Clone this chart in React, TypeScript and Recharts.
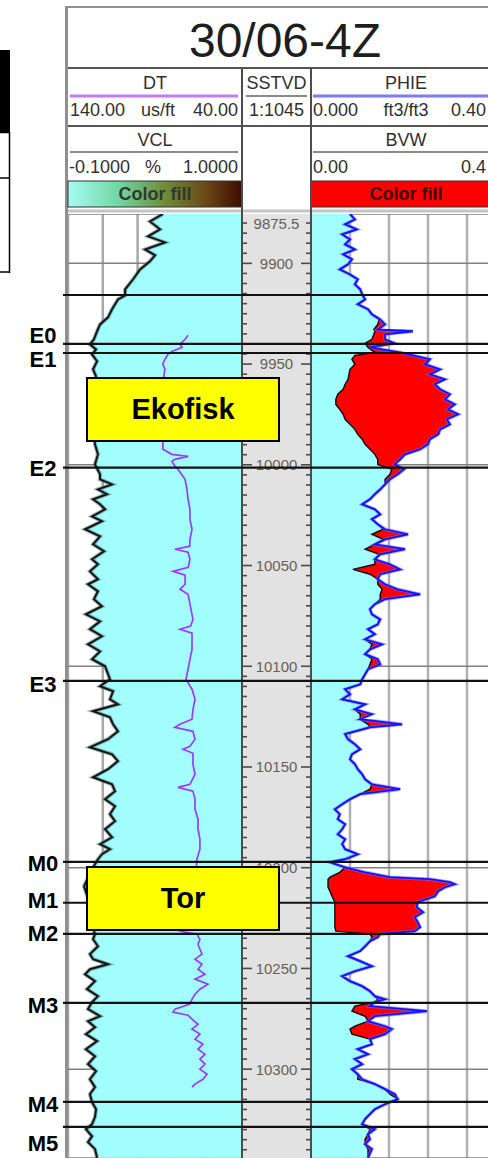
import React from 'react';
import { ComposedChart, Area, Line, XAxis, YAxis, CartesianGrid, ReferenceLine } from 'recharts';

// ---------------- data ----------------
const wellName = '30/06-4Z';
const topDepth = 9875.5;
const bottomDepth = 10344.1;
const topDepthLabel = '9875.5';

const dtDepth = [9875.5, 9879.2, 9883.1, 9886.6, 9889.6, 9893.1, 9896.0, 9899.0, 9903.0, 9907.9, 9912.9, 9915.9, 9917.9, 9922.8, 9926.8, 9930.3, 9933.7, 9937.7, 9940.2, 9942.7, 9945.2, 9948.6, 9952.6, 9956.1, 9962.5, 9972.5, 9982.4, 9989.8, 9994.8, 9999.8, 10004.7, 10007.2, 10009.7, 10012.2, 10014.6, 10017.1, 10019.6, 10022.1, 10025.6, 10028.0, 10032.0, 10035.5, 10039.5, 10042.9, 10046.9, 10049.4, 10052.9, 10056.8, 10059.3, 10062.8, 10066.7, 10070.2, 10074.2, 10077.7, 10081.6, 10085.1, 10089.1, 10092.6, 10096.5, 10100.0, 10102.5, 10106.5, 10109.9, 10112.4, 10116.4, 10118.9, 10122.3, 10125.3, 10128.8, 10132.3, 10136.2, 10140.2, 10143.7, 10147.1, 10151.1, 10155.1, 10158.6, 10162.0, 10166.0, 10169.5, 10173.4, 10176.9, 10180.9, 10184.9, 10188.3, 10190.8, 10193.3, 10195.8, 10200.7, 10209.2, 10218.1, 10228.0, 10233.0, 10235.5, 10239.0, 10242.9, 10245.4, 10247.9, 10250.4, 10252.9, 10256.3, 10260.3, 10263.8, 10266.7, 10270.2, 10273.7, 10276.2, 10279.2, 10282.6, 10286.1, 10290.1, 10293.6, 10297.5, 10301.0, 10305.0, 10308.9, 10312.4, 10316.4, 10319.9, 10323.8, 10327.3, 10329.8, 10333.3, 10336.2, 10339.7, 10344.0];
const dtValues = [85.4, 92.9, 87.1, 94.0, 84.3, 95.7, 90.0, 92.9, 98.6, 102.6, 107.2, 107.2, 111.3, 114.7, 117.0, 121.6, 123.3, 125.1, 127.4, 123.9, 126.2, 123.3, 125.6, 123.9, 125.1, 123.3, 125.1, 124.5, 122.8, 124.5, 121.6, 121.6, 114.7, 122.8, 117.6, 125.6, 121.6, 118.7, 126.2, 120.5, 130.2, 121.6, 125.6, 119.3, 126.2, 122.8, 127.4, 122.8, 128.5, 122.8, 125.1, 120.5, 129.7, 121.6, 127.4, 120.5, 128.5, 121.6, 126.2, 118.7, 117.6, 115.9, 121.6, 114.1, 115.9, 111.3, 125.6, 115.9, 114.1, 111.3, 117.0, 127.4, 114.7, 111.3, 117.0, 125.6, 114.7, 113.0, 118.7, 113.0, 115.9, 113.0, 118.7, 114.7, 121.6, 115.9, 120.5, 122.8, 126.2, 130.8, 127.4, 126.2, 124.5, 125.6, 122.8, 127.4, 125.6, 117.0, 127.4, 130.2, 124.5, 129.1, 122.8, 126.2, 128.5, 121.6, 128.5, 124.5, 129.7, 123.3, 129.7, 124.5, 128.5, 123.9, 127.4, 124.5, 127.4, 126.2, 123.9, 124.5, 126.2, 129.7, 126.2, 128.5, 124.5, 123.3];

const vclDepth = [9935.7, 9937.7, 9940.2, 9941.7, 9943.7, 9945.2, 9947.6, 9950.1, 9952.6, 9955.1, 9967.5, 9979.9, 9988.8, 9992.3, 9994.8, 9995.8, 9997.3, 9998.3, 10000.7, 10002.2, 10007.2, 10012.2, 10017.1, 10022.1, 10027.0, 10032.0, 10037.0, 10040.4, 10041.9, 10043.4, 10046.9, 10050.9, 10052.9, 10054.8, 10059.3, 10061.8, 10064.3, 10069.2, 10076.7, 10080.1, 10081.6, 10083.6, 10086.6, 10091.6, 10096.5, 10101.5, 10106.5, 10111.4, 10116.4, 10121.4, 10126.3, 10128.8, 10130.3, 10132.3, 10136.2, 10139.7, 10141.2, 10143.2, 10148.6, 10153.6, 10158.6, 10160.1, 10162.0, 10166.0, 10171.0, 10175.9, 10180.9, 10185.9, 10190.8, 10195.8, 10215.6, 10231.5, 10233.0, 10235.5, 10238.0, 10242.9, 10245.4, 10247.9, 10250.4, 10252.9, 10255.3, 10257.8, 10260.3, 10262.8, 10265.3, 10267.7, 10270.2, 10271.7, 10273.2, 10275.2, 10277.7, 10280.1, 10282.6, 10285.1, 10287.6, 10290.1, 10292.6, 10295.0, 10297.5, 10300.0, 10302.5, 10305.0, 10307.4, 10308.9];
const vclValues = [0.659, 0.640, 0.608, 0.621, 0.557, 0.532, 0.513, 0.500, 0.513, 0.507, 0.505, 0.500, 0.500, 0.500, 0.557, 0.659, 0.576, 0.557, 0.576, 0.595, 0.640, 0.652, 0.659, 0.671, 0.671, 0.684, 0.671, 0.670, 0.576, 0.659, 0.671, 0.660, 0.564, 0.640, 0.640, 0.608, 0.659, 0.671, 0.690, 0.675, 0.608, 0.684, 0.684, 0.684, 0.671, 0.659, 0.646, 0.684, 0.703, 0.690, 0.684, 0.608, 0.576, 0.690, 0.703, 0.671, 0.627, 0.690, 0.690, 0.703, 0.671, 0.595, 0.690, 0.703, 0.703, 0.722, 0.722, 0.734, 0.734, 0.715, 0.700, 0.608, 0.715, 0.734, 0.722, 0.747, 0.703, 0.747, 0.722, 0.766, 0.703, 0.785, 0.734, 0.703, 0.684, 0.671, 0.576, 0.564, 0.659, 0.684, 0.722, 0.684, 0.734, 0.703, 0.753, 0.722, 0.766, 0.734, 0.766, 0.734, 0.779, 0.753, 0.703, 0.684];

const phieDepth = [9875.5, 9878.2, 9880.6, 9883.1, 9885.6, 9888.1, 9890.6, 9893.1, 9895.5, 9898.0, 9900.5, 9903.0, 9905.5, 9907.9, 9910.4, 9912.9, 9915.4, 9917.9, 9920.3, 9922.8, 9925.3, 9927.8, 9930.3, 9932.8, 9933.7, 9935.2, 9937.7, 9939.7, 9941.7, 9944.2, 9945.7, 9947.6, 9950.1, 9952.6, 9955.1, 9957.6, 9960.0, 9962.5, 9965.0, 9967.5, 9970.0, 9972.5, 9974.9, 9977.4, 9979.9, 9982.4, 9984.9, 9987.3, 9989.8, 9992.3, 9994.8, 9997.3, 9999.8, 10002.2, 10004.7, 10007.2, 10009.7, 10012.2, 10014.6, 10017.1, 10019.6, 10022.1, 10024.6, 10027.0, 10029.5, 10032.0, 10034.5, 10037.0, 10039.5, 10041.9, 10044.4, 10046.9, 10049.4, 10051.9, 10054.3, 10056.8, 10059.3, 10061.8, 10064.3, 10066.7, 10069.2, 10071.7, 10074.2, 10076.7, 10079.2, 10081.6, 10084.1, 10086.6, 10089.1, 10091.6, 10094.0, 10096.5, 10099.0, 10101.5, 10104.0, 10106.5, 10109.0, 10111.4, 10113.9, 10116.4, 10118.9, 10121.4, 10123.8, 10126.3, 10128.8, 10130.3, 10133.7, 10136.2, 10138.7, 10141.2, 10143.7, 10146.2, 10148.6, 10151.1, 10153.6, 10156.1, 10158.6, 10161.0, 10163.5, 10166.0, 10168.5, 10171.0, 10173.4, 10175.9, 10178.4, 10180.9, 10183.4, 10185.9, 10188.3, 10190.8, 10193.3, 10195.8, 10197.3, 10199.8, 10202.3, 10204.7, 10205.7, 10207.2, 10208.2, 10209.7, 10211.7, 10214.2, 10217.1, 10219.6, 10222.1, 10224.6, 10227.0, 10229.5, 10231.5, 10233.0, 10234.5, 10236.5, 10239.0, 10241.4, 10243.9, 10246.4, 10248.9, 10251.4, 10253.8, 10256.3, 10258.8, 10261.3, 10263.8, 10265.3, 10266.7, 10268.7, 10271.2, 10273.7, 10276.2, 10278.7, 10280.1, 10282.6, 10285.1, 10287.6, 10290.1, 10292.6, 10295.0, 10297.5, 10300.0, 10302.5, 10305.0, 10307.4, 10309.9, 10312.4, 10314.9, 10317.4, 10319.9, 10322.3, 10324.8, 10327.3, 10329.8, 10332.3, 10334.8, 10337.2, 10339.7, 10344.0];
const phieValues = [0.080, 0.090, 0.070, 0.094, 0.064, 0.080, 0.070, 0.090, 0.066, 0.084, 0.076, 0.059, 0.080, 0.096, 0.090, 0.101, 0.105, 0.111, 0.096, 0.117, 0.125, 0.142, 0.152, 0.137, 0.209, 0.152, 0.152, 0.172, 0.121, 0.183, 0.209, 0.244, 0.234, 0.265, 0.244, 0.275, 0.254, 0.265, 0.285, 0.275, 0.295, 0.281, 0.302, 0.279, 0.285, 0.265, 0.261, 0.244, 0.240, 0.224, 0.193, 0.183, 0.172, 0.191, 0.178, 0.162, 0.152, 0.142, 0.131, 0.121, 0.105, 0.131, 0.142, 0.125, 0.137, 0.152, 0.199, 0.152, 0.131, 0.193, 0.142, 0.131, 0.162, 0.183, 0.142, 0.137, 0.152, 0.178, 0.224, 0.152, 0.131, 0.121, 0.125, 0.142, 0.137, 0.117, 0.131, 0.111, 0.146, 0.121, 0.111, 0.137, 0.142, 0.117, 0.111, 0.105, 0.101, 0.070, 0.080, 0.064, 0.111, 0.090, 0.125, 0.101, 0.187, 0.121, 0.070, 0.076, 0.090, 0.101, 0.084, 0.080, 0.090, 0.096, 0.105, 0.111, 0.125, 0.183, 0.101, 0.080, 0.064, 0.049, 0.059, 0.055, 0.070, 0.064, 0.055, 0.070, 0.064, 0.070, 0.096, 0.070, 0.039, 0.070, 0.111, 0.162, 0.244, 0.285, 0.295, 0.275, 0.261, 0.254, 0.219, 0.217, 0.230, 0.213, 0.219, 0.224, 0.213, 0.142, 0.137, 0.121, 0.111, 0.101, 0.076, 0.101, 0.125, 0.090, 0.064, 0.080, 0.105, 0.121, 0.131, 0.152, 0.131, 0.121, 0.238, 0.131, 0.117, 0.152, 0.166, 0.152, 0.121, 0.125, 0.096, 0.117, 0.090, 0.105, 0.084, 0.096, 0.105, 0.131, 0.152, 0.172, 0.178, 0.152, 0.131, 0.121, 0.111, 0.105, 0.131, 0.117, 0.121, 0.111, 0.125, 0.117];
const bvwValues = [0.080, 0.090, 0.070, 0.094, 0.064, 0.080, 0.070, 0.090, 0.066, 0.084, 0.076, 0.059, 0.080, 0.096, 0.090, 0.101, 0.105, 0.111, 0.096, 0.117, 0.125, 0.140, 0.137, 0.129, 0.131, 0.129, 0.125, 0.111, 0.117, 0.131, 0.090, 0.084, 0.090, 0.080, 0.078, 0.076, 0.070, 0.066, 0.055, 0.051, 0.051, 0.059, 0.066, 0.070, 0.080, 0.090, 0.096, 0.105, 0.111, 0.121, 0.131, 0.137, 0.137, 0.166, 0.162, 0.152, 0.152, 0.142, 0.131, 0.121, 0.105, 0.131, 0.142, 0.125, 0.137, 0.148, 0.125, 0.148, 0.131, 0.111, 0.140, 0.131, 0.131, 0.086, 0.121, 0.137, 0.137, 0.146, 0.142, 0.142, 0.131, 0.121, 0.125, 0.140, 0.137, 0.117, 0.131, 0.111, 0.125, 0.121, 0.111, 0.125, 0.121, 0.117, 0.111, 0.105, 0.101, 0.070, 0.080, 0.064, 0.111, 0.090, 0.101, 0.101, 0.117, 0.121, 0.070, 0.076, 0.090, 0.101, 0.084, 0.080, 0.090, 0.096, 0.105, 0.111, 0.125, 0.121, 0.101, 0.080, 0.064, 0.049, 0.059, 0.055, 0.070, 0.064, 0.055, 0.070, 0.064, 0.070, 0.096, 0.070, 0.039, 0.070, 0.059, 0.039, 0.035, 0.035, 0.035, 0.035, 0.039, 0.043, 0.049, 0.049, 0.049, 0.049, 0.049, 0.049, 0.051, 0.121, 0.125, 0.121, 0.111, 0.101, 0.076, 0.101, 0.125, 0.090, 0.064, 0.080, 0.105, 0.121, 0.131, 0.137, 0.131, 0.090, 0.084, 0.111, 0.117, 0.090, 0.080, 0.084, 0.121, 0.125, 0.096, 0.117, 0.090, 0.105, 0.084, 0.096, 0.096, 0.131, 0.152, 0.162, 0.178, 0.152, 0.131, 0.121, 0.111, 0.105, 0.121, 0.117, 0.111, 0.111, 0.117, 0.117];

const depthLabels = [9900, 9950, 10000, 10050, 10100, 10150, 10200, 10250, 10300];
const depthGrid = [9900, 10000, 10100, 10200, 10300];
const dtTicks = [140, 120, 100, 80, 60, 40];
const phieTicks = [0, 0.08, 0.16, 0.24, 0.32, 0.4];

const topNames = ['', 'E0', 'E1', 'E2', 'E3', 'M0', 'M1', 'M2', 'M3', 'M4', 'M5'];
const topDepths = [9915.7, 9940.0, 9944.5, 10001.4, 10107.3, 10197.1, 10217.4, 10232.8, 10267.1, 10316.2, 10328.6];

const zoneNames = ['Ekofisk', 'Tor'];

// ---------------- derived tables ----------------
const dtData = dtDepth.map((depth, i) => ({ depth, dt: dtValues[i] }));
const vclData = vclDepth.map((depth, i) => ({ depth, vcl: vclValues[i] }));
const phieData = phieDepth.map((depth, i) => ({
  depth,
  phie: phieValues[i],
  bvw: bvwValues[i],
  hc: [bvwValues[i], phieValues[i]],
}));
const depthTicks = [topDepth, ...Array.from({ length: 93 }, (_, i) => 9880 + i * 5)];
const tickData = depthTicks.map((depth) => ({ depth, v: 0.5 }));
const topsData = topDepths.map((depth, i) => ({ depth, name: topNames[i], v: 0.5 }));

// ---------------- styles ----------------
const FONT = '"Liberation Sans", Arial, Helvetica, sans-serif';
const CYAN = '#a2fdfd';
const TRACK_TOP = 214;
const TRACK_H = 944;
const DEPTH_W = 69;
const labelShift: Record<string, number> = { E0: -9, E1: 6, E3: 3, M0: 1, M1: -3, M2: -1, M3: 2, M4: 2, M5: 16 };

function DepthTick(props: any) {
  const { y, payload } = props;
  const v = payload?.value;
  if (v === topDepth) {
    return (
      <text x={DEPTH_W / 2} y={y + 15} textAnchor="middle" fontSize={15} fontFamily={FONT} fill="#665f55">
        {topDepthLabel}
      </text>
    );
  }
  const major = depthLabels.includes(v);
  const len = major ? 9 : 4;
  return (
    <g>
      <line x1={1} x2={1 + len} y1={y} y2={y} stroke="#4a4a4a" strokeWidth={1.6} />
      <line x1={DEPTH_W - 1 - len} x2={DEPTH_W - 1} y1={y} y2={y} stroke="#4a4a4a" strokeWidth={1.6} />
      {major && (
        <text x={DEPTH_W / 2} y={y} dy="0.36em" textAnchor="middle" fontSize={15} fontFamily={FONT} fill="#665f55">
          {v}
        </text>
      )}
    </g>
  );
}

const topLabel = (name: string) => (props: any) => {
  const vb = props.viewBox || { x: 0, y: 0 };
  return (
    <text
      x={vb.x - 20}
      y={vb.y + (labelShift[name] ?? 0)}
      dy="0.36em"
      textAnchor="middle"
      fontFamily={FONT}
      fontWeight="bold"
      fontSize={22}
      fill="#000"
    >
      {name}
    </text>
  );
};

const HText = ({ x, y, anchor = 'middle', children, size = 18, bold = false, fill = '#303030' }: any) => (
  <text x={x} y={y} dy="0.35em" textAnchor={anchor} fontSize={size} fontFamily={FONT} fontWeight={bold ? 'bold' : 'normal'} fill={fill}>
    {children}
  </text>
);

function Header() {
  return (
    <svg width={488} height={1158} style={{ position: 'absolute', left: 0, top: 0 }}>
      <defs>
        <linearGradient id="vclFill" x1="0" x2="1" y1="0" y2="0">
          <stop offset="0" stopColor="#a6fbf4" />
          <stop offset="0.3" stopColor="#6fd6a0" />
          <stop offset="0.55" stopColor="#6e8d3c" />
          <stop offset="0.8" stopColor="#6b4614" />
          <stop offset="1" stopColor="#3a0c00" />
        </linearGradient>
      </defs>
      {/* cropped table fragment at far left */}
      <rect x={0} y={50} width={10} height={82} fill="#000" />
      <line x1={0} y1={132.5} x2={10} y2={132.5} stroke="#000" strokeWidth={1.5} />
      <line x1={0} y1={178} x2={10} y2={178} stroke="#000" strokeWidth={1.5} />
      <line x1={0} y1={272} x2={10} y2={272} stroke="#000" strokeWidth={1.5} />
      <line x1={9.5} y1={132} x2={9.5} y2={273} stroke="#000" strokeWidth={1.5} />

      {/* frame */}
      <rect x={65} y={6} width={3} height={1152} fill="#8f8f8f" />
      <rect x={65} y={6} width={430} height={2} fill="#8f8f8f" />
      <text x={285} y={57} textAnchor="middle" fontSize={48} fontFamily={FONT} fill="#1e1e1e">
        {wellName}
      </text>
      <line x1={68} x2={495} y1={68} y2={68} stroke="#555" strokeWidth={2} />
      <line x1={68} x2={495} y1={126} y2={126} stroke="#555" strokeWidth={2} />
      <line x1={242} x2={242} y1={68} y2={208} stroke="#555" strokeWidth={2} />
      <line x1={311} x2={311} y1={68} y2={208} stroke="#555" strokeWidth={2} />

      {/* DT / VCL */}
      <HText x={155} y={83}>DT</HText>
      <line x1={70} x2={238} y1={96} y2={96} stroke="#c27cff" strokeWidth={3} />
      <HText x={70} y={110} anchor="start">140.00</HText>
      <HText x={158} y={110}>us/ft</HText>
      <HText x={238} y={110} anchor="end">40.00</HText>
      <HText x={155} y={140}>VCL</HText>
      <line x1={70} x2={238} y1={152} y2={152} stroke="#8a8a8a" strokeWidth={2} />
      <HText x={69} y={167} anchor="start">-0.1000</HText>
      <HText x={153} y={167}>%</HText>
      <HText x={238} y={167} anchor="end">1.0000</HText>
      <rect x={68} y={181} width={174} height={26} fill="url(#vclFill)" stroke="#333" strokeWidth={1} />
      <HText x={155} y={194} bold fill="#2e3a2e">Color fill</HText>

      {/* SSTVD */}
      <HText x={276.5} y={83}>SSTVD</HText>
      <line x1={246} x2={307} y1={96} y2={96} stroke="#8a8a8a" strokeWidth={2} />
      <HText x={276.5} y={110}>1:1045</HText>

      {/* PHIE / BVW */}
      <HText x={406} y={83}>PHIE</HText>
      <line x1={313} x2={500} y1={96} y2={96} stroke="#7b7bff" strokeWidth={3} />
      <HText x={313} y={110} anchor="start">0.000</HText>
      <HText x={406} y={110}>ft3/ft3</HText>
      <HText x={486} y={110} anchor="end">0.40</HText>
      <HText x={406} y={140}>BVW</HText>
      <line x1={313} x2={500} y1={152} y2={152} stroke="#8a8a8a" strokeWidth={2} />
      <HText x={313} y={167} anchor="start">0.00</HText>
      <HText x={486} y={167} anchor="end">0.4</HText>
      <rect x={311} y={181} width={195} height={26} fill="#ff0000" stroke="#333" strokeWidth={1} />
      <HText x={406} y={194} bold fill="#3a0000">Color fill</HText>

      {/* track top + depth background */}
      <line x1={68} x2={495} y1={211} y2={211} stroke="#c4c4c4" strokeWidth={3} />
      <rect x={242} y={TRACK_TOP} width={69} height={TRACK_H} fill="#e2e2e2" />
    </svg>
  );
}

const yAxisProps = {
  type: 'number' as const,
  dataKey: 'depth',
  domain: [topDepth, bottomDepth],
  allowDataOverflow: true,
};

export default function App() {
  return (
    <div style={{ position: 'absolute', left: 0, top: 0, width: 488, height: 1158, overflow: 'hidden', background: '#fff', fontFamily: FONT }}>
      <Header />

      {/* DT / VCL track */}
      <div style={{ position: 'absolute', left: 68, top: TRACK_TOP }}>
        <ComposedChart layout="vertical" width={174} height={TRACK_H} margin={{ top: 0, right: 0, bottom: 0, left: 0 }}>
          <XAxis xAxisId="dt" type="number" domain={[40, 140]} reversed hide ticks={dtTicks} allowDataOverflow />
          <XAxis xAxisId="vcl" type="number" domain={[-0.1, 1]} hide allowDataOverflow />
          <YAxis {...yAxisProps} hide ticks={depthGrid} />
          <CartesianGrid xAxisId="dt" horizontal={false} stroke="#a8a8a8" strokeWidth={2.5} />
          <CartesianGrid xAxisId="dt" vertical={false} stroke="#808080" strokeWidth={1.5} />
          <Area xAxisId="dt" data={dtData} dataKey="dt" baseValue={40} fill={CYAN} fillOpacity={1} stroke="none" isAnimationActive={false} />
          <Line xAxisId="dt" data={dtData} dataKey="dt" stroke="#4f7b78" strokeOpacity={0.55} strokeWidth={4} dot={false} isAnimationActive={false} />
          <Line xAxisId="dt" data={dtData} dataKey="dt" stroke="#151515" strokeWidth={2} dot={false} isAnimationActive={false} />
          <Line xAxisId="vcl" data={vclData} dataKey="vcl" stroke="#9a3cff" strokeWidth={1.7} dot={false} isAnimationActive={false} />
        </ComposedChart>
      </div>

      {/* depth track */}
      <div style={{ position: 'absolute', left: 242, top: TRACK_TOP }}>
        <ComposedChart layout="vertical" data={tickData} width={DEPTH_W} height={TRACK_H} margin={{ top: 0, right: 0, bottom: 0, left: 0 }}>
          <XAxis type="number" domain={[0, 1]} hide />
          <YAxis
            {...yAxisProps}
            ticks={depthTicks}
            interval={0}
            mirror
            width={1}
            axisLine={false}
            tickLine={false}
            tick={(p: any) => <DepthTick {...p} />}
          />
          <Line dataKey="v" stroke="none" dot={false} isAnimationActive={false} />
        </ComposedChart>
      </div>

      {/* PHIE / BVW track */}
      <div style={{ position: 'absolute', left: 311, top: TRACK_TOP }}>
        <ComposedChart layout="vertical" width={195} height={TRACK_H} margin={{ top: 0, right: 0, bottom: 0, left: 0 }}>
          <XAxis type="number" domain={[0, 0.4]} hide ticks={phieTicks} allowDataOverflow />
          <YAxis {...yAxisProps} hide ticks={depthGrid} />
          <CartesianGrid horizontal={false} stroke="#b0b0b0" strokeWidth={2.5} />
          <CartesianGrid vertical={false} stroke="#808080" strokeWidth={1.5} />
          <Area data={phieData} dataKey="bvw" baseValue={0} fill={CYAN} fillOpacity={1} stroke="none" isAnimationActive={false} />
          <Area data={phieData} dataKey="hc" fill="#ff0000" fillOpacity={1} stroke="none" isAnimationActive={false} />
          <Line data={phieData} dataKey="bvw" stroke="#111" strokeWidth={1.5} dot={false} isAnimationActive={false} />
          <Line data={phieData} dataKey="phie" stroke="#6a6aff" strokeOpacity={0.6} strokeWidth={3.5} dot={false} isAnimationActive={false} />
          <Line data={phieData} dataKey="phie" stroke="#1212ff" strokeWidth={1.8} dot={false} isAnimationActive={false} />
        </ComposedChart>
      </div>

      {/* track borders */}
      <div style={{ position: 'absolute', left: 241, top: 68, width: 2, height: 1090, background: '#4d4d4d' }} />
      <div style={{ position: 'absolute', left: 310, top: 68, width: 2, height: 1090, background: '#4d4d4d' }} />

      {/* formation tops */}
      <div style={{ position: 'absolute', left: 0, top: TRACK_TOP }}>
        <ComposedChart layout="vertical" data={topsData} width={488} height={TRACK_H} margin={{ top: 0, right: 0, bottom: 0, left: 63 }}>
          <XAxis type="number" domain={[0, 1]} hide />
          <YAxis {...yAxisProps} hide />
          <Line dataKey="v" stroke="none" dot={false} isAnimationActive={false} />
          {topNames.map((name, i) => (
            <ReferenceLine
              key={i}
              y={topDepths[i]}
              stroke="#111"
              strokeWidth={2.2}
              ifOverflow="visible"
              label={name ? topLabel(name) : undefined}
            />
          ))}
        </ComposedChart>
      </div>

      {/* zone boxes */}
      {[377, 866].map((top, i) => (
        <div
          key={zoneNames[i]}
          style={{
            position: 'absolute',
            left: 86,
            top,
            width: 194,
            height: 65,
            boxSizing: 'border-box',
            background: '#ffff00',
            border: '2px solid #000',
            display: 'flex',
            alignItems: 'center',
            justifyContent: 'center',
            fontFamily: FONT,
            fontWeight: 'bold',
            fontSize: 29,
            color: '#000',
          }}
        >
          {zoneNames[i]}
        </div>
      ))}
    </div>
  );
}
